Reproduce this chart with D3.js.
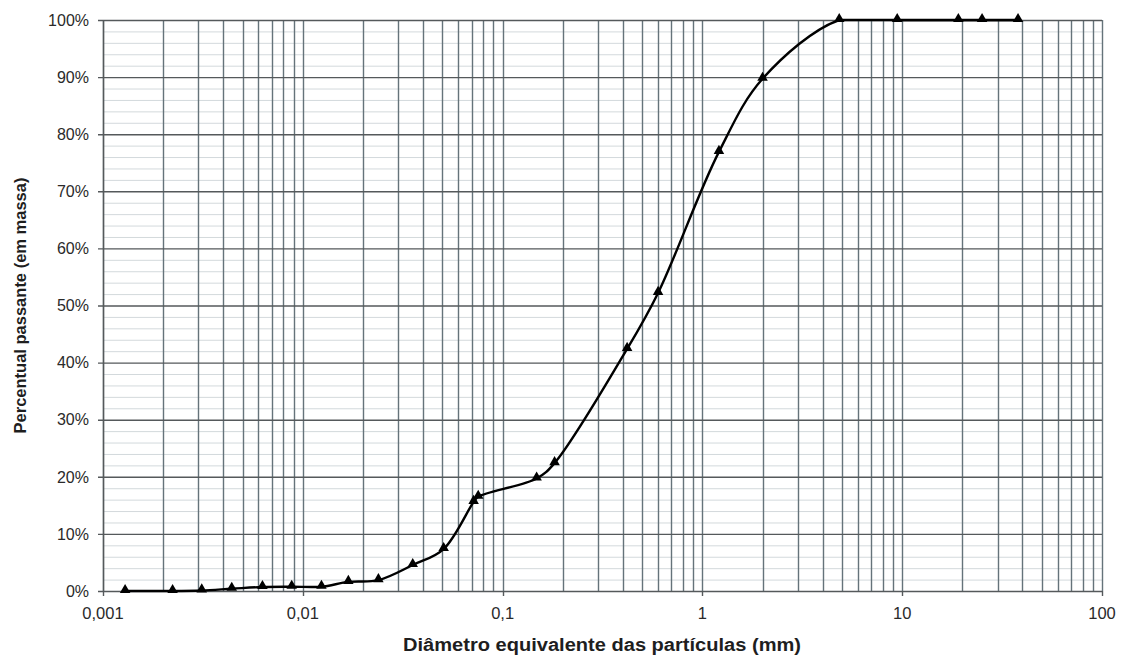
<!DOCTYPE html>
<html>
<head>
<meta charset="utf-8">
<script src="https://cdn.jsdelivr.net/npm/d3@7"></script>
<style>
  html, body { margin: 0; padding: 0; background: #fff; }
  svg { display: block; font-family: "Liberation Sans", Arial, sans-serif; }
</style>
</head>
<body>
<svg id="chart" width="1123" height="655"></svg>
<script>
// Particle size distribution (granulometric curve)
const diameters = [0.00129, 0.00223, 0.00312, 0.00441, 0.00628, 0.0088, 0.0124, 0.0169, 0.0239,
                   0.0355, 0.0507, 0.0716, 0.0755, 0.148, 0.182, 0.42, 0.60, 1.21, 2.0,
                   4.84, 9.44, 19.1, 25.1, 38.0];
const passing   = [0.0, 0.0, 0.1, 0.4, 0.7, 0.75, 0.75, 1.6, 1.9,
                   4.55, 7.35, 15.6, 16.5, 19.7, 22.4, 42.4, 52.2, 76.9, 89.7,
                   100, 100, 100, 100, 100];

const xTickValues = [0.001, 0.01, 0.1, 1, 10, 100];
const xTickLabels = ["0,001", "0,01", "0,1", "1", "10", "100"];
const yTickValues = [0, 10, 20, 30, 40, 50, 60, 70, 80, 90, 100];
const yTickLabels = yTickValues.map(v => v + "%");

const xTitle = "Diâmetro equivalente das partículas (mm)";
const yTitle = "Percentual passante (em massa)";

const svg = d3.select("#chart");
const margin = { left: 103, right: 21, top: 20, bottom: 64 };
const W = 1123, H = 655;
const x0 = margin.left, x1 = W - margin.right;
const y0 = H - margin.bottom, y1 = margin.top;

const x = d3.scaleLog().domain([0.001, 100]).range([x0, x1]);
const y = d3.scaleLinear().domain([0, 100]).range([y0, y1]);

const grid = svg.append("g");

// minor horizontal lines every 2%
grid.selectAll("line.hmin")
  .data(d3.range(0, 101, 2).filter(v => v % 10 !== 0))
  .join("line")
  .attr("x1", x0).attr("x2", x1)
  .attr("y1", d => y(d) + 0.5).attr("y2", d => y(d) + 0.5)
  .attr("stroke", "#d3d9dc").attr("stroke-width", 1);

// vertical lines at every log subdivision
grid.selectAll("line.v")
  .data(x.ticks())
  .join("line")
  .attr("x1", d => Math.round(x(d)) + 0.5).attr("x2", d => Math.round(x(d)) + 0.5)
  .attr("y1", y1).attr("y2", y0)
  .attr("stroke", "#65737a").attr("stroke-width", 1.4);

// major horizontal lines every 10%, extending into tick marks
grid.selectAll("line.hmaj")
  .data(yTickValues)
  .join("line")
  .attr("x1", x0 - 5).attr("x2", x1)
  .attr("y1", d => y(d) + 0.5).attr("y2", d => y(d) + 0.5)
  .attr("stroke", "#55595b").attr("stroke-width", 1.4);

// left axis line
svg.append("line")
  .attr("x1", x0 + 0.5).attr("x2", x0 + 0.5).attr("y1", y1).attr("y2", y0)
  .attr("stroke", "#55595b").attr("stroke-width", 1.4);

// x tick marks at decades
svg.selectAll("line.xt")
  .data(xTickValues)
  .join("line")
  .attr("x1", d => Math.round(x(d)) + 0.5).attr("x2", d => Math.round(x(d)) + 0.5)
  .attr("y1", y0).attr("y2", y0 + 5)
  .attr("stroke", "#55595b").attr("stroke-width", 1.4);

// tick labels
svg.selectAll("text.yl")
  .data(yTickValues)
  .join("text")
  .attr("x", 89).attr("y", d => y(d))
  .attr("dy", "0.36em")
  .attr("text-anchor", "end")
  .attr("font-size", 16)
  .attr("fill", "#2a2a2a")
  .text((d, i) => yTickLabels[i]);

svg.selectAll("text.xl")
  .data(xTickValues)
  .join("text")
  .attr("x", d => x(d)).attr("y", 613)
  .attr("dy", "0.36em")
  .attr("text-anchor", "middle")
  .attr("font-size", 16.5)
  .attr("fill", "#2a2a2a")
  .text((d, i) => xTickLabels[i]);

// axis titles
svg.append("text")
  .attr("x", 602).attr("y", 645)
  .attr("dy", "0.36em")
  .attr("text-anchor", "middle")
  .attr("font-size", 18).attr("font-weight", "bold")
  .attr("textLength", 398).attr("lengthAdjust", "spacingAndGlyphs")
  .attr("fill", "#1e1e1e")
  .text(xTitle);

svg.append("text")
  .attr("transform", `translate(20,${(y0 + y1) / 2}) rotate(-90)`)
  .attr("dy", "0.36em")
  .attr("text-anchor", "middle")
  .attr("font-size", 16.5).attr("font-weight", "bold")
  .attr("fill", "#1e1e1e")
  .text(yTitle);

// smoothed distribution curve, kept at or below 100% passing;
// the plateau itself is drawn as a straight line on top
const pts = diameters.map((d, i) => [d, passing[i]]);
const firstFull = passing.indexOf(100);
const plateau = pts.slice(firstFull);

svg.append("clipPath").attr("id", "cap")
  .append("rect")
  .attr("x", 0).attr("y", y(100))
  .attr("width", W).attr("height", H - y(100));

const smooth = d3.line()
  .x(d => x(d[0])).y(d => y(d[1]))
  .curve(d3.curveCatmullRom.alpha(0.5));
const straight = d3.line()
  .x(d => x(d[0])).y(d => y(d[1]));

svg.append("path")
  .datum(pts)
  .attr("d", smooth)
  .attr("clip-path", "url(#cap)")
  .attr("fill", "none")
  .attr("stroke", "#000")
  .attr("stroke-width", 2.4)
  .attr("stroke-linejoin", "round");

svg.append("path")
  .datum(plateau)
  .attr("d", straight)
  .attr("fill", "none")
  .attr("stroke", "#000")
  .attr("stroke-width", 2.4)
  .attr("stroke-linecap", "round");

// triangle markers
const tri = d3.symbol().type(d3.symbolTriangle).size(48);
svg.selectAll("path.mk")
  .data(pts)
  .join("path")
  .attr("transform", d => `translate(${x(d[0])},${y(d[1]) - 1})`)
  .attr("d", tri)
  .attr("fill", "#000");
</script>
</body>
</html>
